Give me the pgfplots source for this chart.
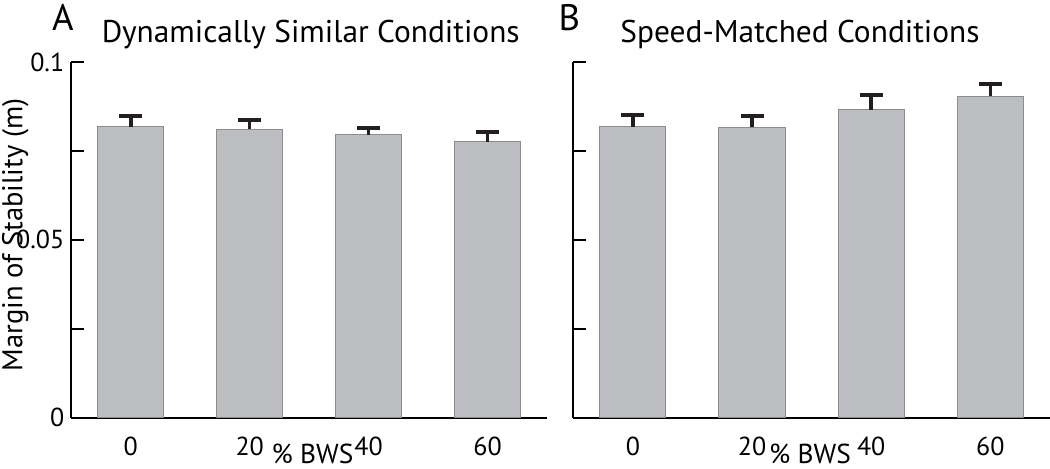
\documentclass[border=0pt]{standalone}
\usepackage{fontspec}
\setmainfont{PT Sans}
\usepackage{pgfplots}
\pgfplotsset{compat=1.18}
\definecolor{barfill}{HTML}{BCBDC0}
\definecolor{baredge}{HTML}{8C8C8C}
\definecolor{errc}{HTML}{231F20}
\pgfplotstableread{
x y e
0 0.0818 0.0029
1 0.0811 0.0027
2 0.0796 0.0018
3 0.0776 0.0026
}\dsim
\pgfplotstableread{
x y e
0 0.0818 0.0032
1 0.0816 0.0031
2 0.0866 0.0040
3 0.0904 0.0033
}\smatch
\pgfplotsset{
  mos/.style={
    scale only axis, height=177.85pt,
    anchor=south west,
    axis lines*=left,
    axis line style={line width=1pt, black},
    ymin=0, ymax=0.1, enlargelimits=false,
    xmin=-0.5, xmax=3.5,
    ytick={0,0.025,0.05,0.075,0.1},
    tick align=inside,
    major tick length=6.2pt,
    ytick style={line width=1pt, black},
    xtick={0,1,2,3},
    xticklabels={0,20,40,60},
    xtick style={draw=none},
    tick label style={font=\fontsize{13}{15}\selectfont},
    /pgf/number format/assume math mode=true,
    ybar, bar width=0.555,
  },
  mosbar/.style={
    fill=barfill, draw=baredge, line width=0.5pt,
    error bars/.cd, y dir=plus, y explicit,
    error bar style={line width=1.8pt, errc},
    error mark options={rotate=90, errc, mark size=5.75pt, line width=2pt},
  },
}
\begin{document}
\begin{tikzpicture}
\path[use as bounding box] (0pt,0pt) rectangle (525pt,234pt);
\begin{axis}[mos, at={(35.65pt,25.15pt)}, width=237.85pt,
  yticklabels={0,,0.05,,0.1}]
\addplot[mosbar] table[x=x, y=y, y error=e] {\dsim};
\end{axis}
\begin{axis}[mos, at={(286.65pt,25.15pt)}, width=238.35pt,
  yticklabels={,,,,}]
\addplot[mosbar] table[x=x, y=y, y error=e] {\smatch};
\end{axis}
\node[anchor=base west, font=\fontsize{18.4}{20}\selectfont, inner sep=0] at (25.85pt,218.7pt) {A};
\node[anchor=base, font=\fontsize{15.7}{18}\selectfont, inner sep=0] at (155.4pt,212.7pt) {Dynamically Similar Conditions};
\node[anchor=base west, font=\fontsize{18.4}{20}\selectfont, inner sep=0] at (279.15pt,218.7pt) {B};
\node[anchor=base, font=\fontsize{15.7}{18}\selectfont, inner sep=0] at (400pt,212.7pt) {Speed-Matched Conditions};
\node[rotate=90, anchor=base, font=\fontsize{14.3}{16}\selectfont, inner sep=0] at (11.2pt,116.5pt) {Margin of Stability (m)};
\node[anchor=base, font=\fontsize{13.7}{15}\selectfont, inner sep=0] at (156.25pt,2.3pt) {\% BWS};
\node[anchor=base, font=\fontsize{13.7}{15}\selectfont, inner sep=0] at (405pt,2.3pt) {\% BWS};
\end{tikzpicture}
\end{document}
